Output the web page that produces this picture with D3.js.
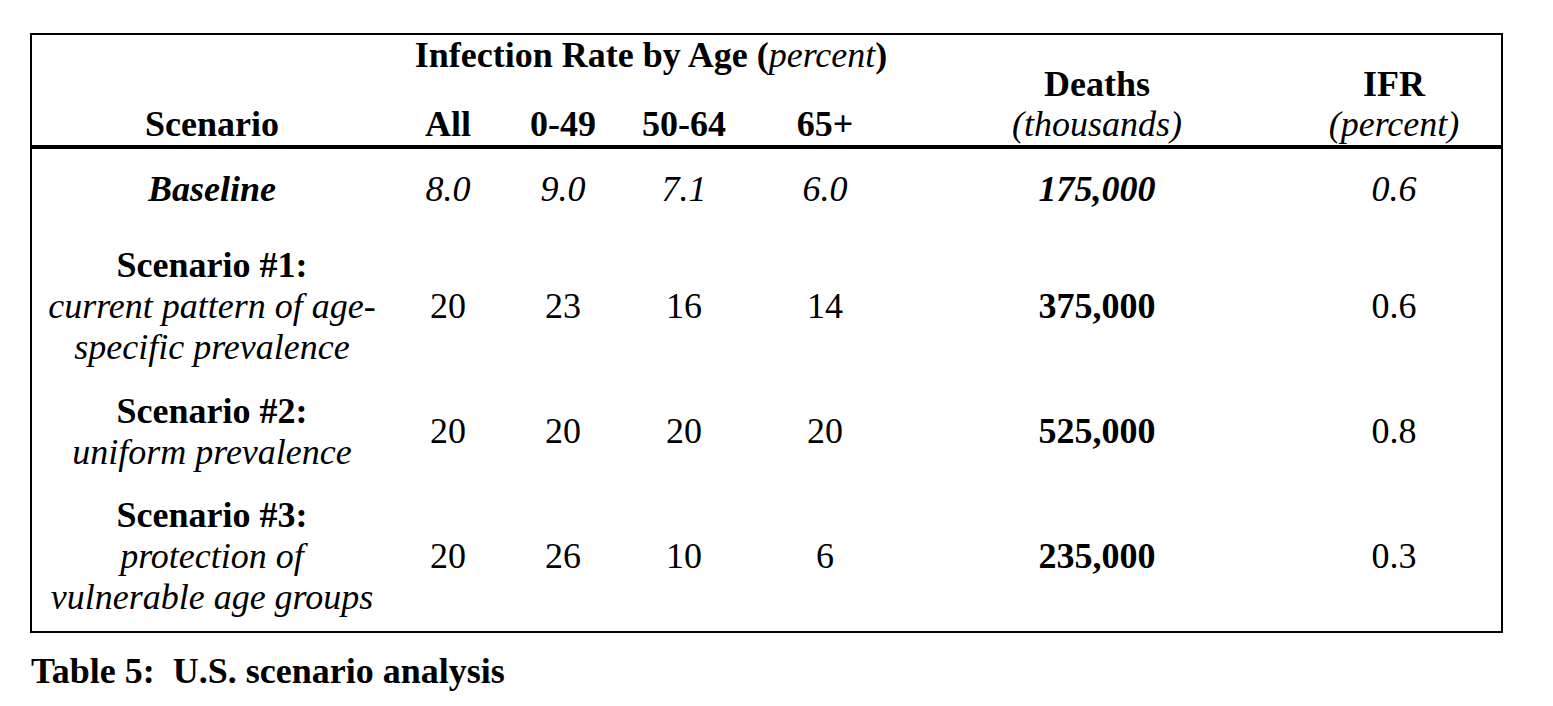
<!DOCTYPE html>
<html>
<head>
<meta charset="utf-8">
<script src="https://cdn.jsdelivr.net/npm/d3@7"></script>
<style>
  html, body { margin: 0; padding: 0; background: #fff; }
  svg { display: block; }
  text { font-family: "Liberation Serif", "Times New Roman", serif; fill: #000; }
</style>
</head>
<body>
<svg id="chart" width="1553" height="706"></svg>
<script>
// ---- data ----
const columns = ["scenario", "all", "age0_49", "age50_64", "age65", "deaths", "ifr"];
const ageHeaders = ["All", "0-49", "50-64", "65+"];
const scenarioTitles = ["Baseline", "Scenario #1:", "Scenario #2:", "Scenario #3:"];
const scenarioDescriptions = [
  [],
  ["current pattern of age-", "specific prevalence"],
  ["uniform prevalence"],
  ["protection of", "vulnerable age groups"]
];
const rateAll = ["8.0", "20", "20", "20"];
const rate0_49 = ["9.0", "23", "20", "26"];
const rate50_64 = ["7.1", "16", "20", "10"];
const rate65 = ["6.0", "14", "20", "6"];
const deaths = ["175,000", "375,000", "525,000", "235,000"];
const ifr = ["0.6", "0.6", "0.8", "0.3"];
const caption = "Table 5:  U.S. scenario analysis";

// ---- layout ----
const svg = d3.select("#chart");
const FS = 36;
const x = d3.scaleOrdinal()
  .domain(columns)
  .range([212, 448, 563, 684, 825, 1097, 1394]);
const rowIndex = d3.range(scenarioTitles.length);
const yVal = d3.scaleOrdinal().domain(rowIndex).range([201, 318, 443, 568]);
const yTitle = d3.scaleOrdinal().domain(rowIndex).range([201, 277, 423, 527]);
const lineH = 41;

svg.append("rect")
  .attr("x", 31).attr("y", 34).attr("width", 1471).attr("height", 598)
  .attr("fill", "none").attr("stroke", "#000").attr("stroke-width", 2);
svg.append("line")
  .attr("x1", 31).attr("x2", 1502).attr("y1", 147).attr("y2", 147)
  .attr("stroke", "#000").attr("stroke-width", 4);

function txt(s, xx, yy, opts = {}) {
  return svg.append("text")
    .attr("x", xx).attr("y", yy)
    .attr("text-anchor", opts.anchor || "middle")
    .attr("font-size", opts.size || FS)
    .attr("font-weight", opts.bold ? "bold" : "normal")
    .attr("font-style", opts.italic ? "italic" : "normal")
    .text(s);
}

const h1 = svg.append("text")
  .attr("x", 651).attr("y", 67)
  .attr("text-anchor", "middle")
  .attr("font-size", FS).attr("font-weight", "bold");
h1.append("tspan").text("Infection Rate by Age (");
h1.append("tspan").attr("font-style", "italic").attr("font-weight", "normal").text("percent");
h1.append("tspan").text(")");

txt("Scenario", x("scenario"), 136, { bold: true });
ageHeaders.forEach((h, i) => txt(h, x(columns[i + 1]), 136, { bold: true }));
txt("Deaths", x("deaths"), 96, { bold: true });
txt("(thousands)", x("deaths"), 136, { italic: true });
txt("IFR", x("ifr"), 96, { bold: true });
txt("(percent)", x("ifr"), 136, { italic: true });

const valueCols = [
  ["all", rateAll], ["age0_49", rate0_49], ["age50_64", rate50_64], ["age65", rate65]
];
rowIndex.forEach(i => {
  const base = i === 0;
  txt(scenarioTitles[i], x("scenario"), yTitle(i), { bold: true, italic: base });
  scenarioDescriptions[i].forEach((d, j) => {
    txt(d, x("scenario"), yTitle(i) + lineH * (j + 1), { italic: true });
  });
  valueCols.forEach(([c, arr]) => txt(arr[i], x(c), yVal(i), { italic: base }));
  txt(deaths[i], x("deaths"), yVal(i), { bold: true, italic: base });
  txt(ifr[i], x("ifr"), yVal(i), { italic: base });
});

txt(caption, 31, 683, { anchor: "start", bold: true }).style("white-space", "pre");
</script>
</body>
</html>
